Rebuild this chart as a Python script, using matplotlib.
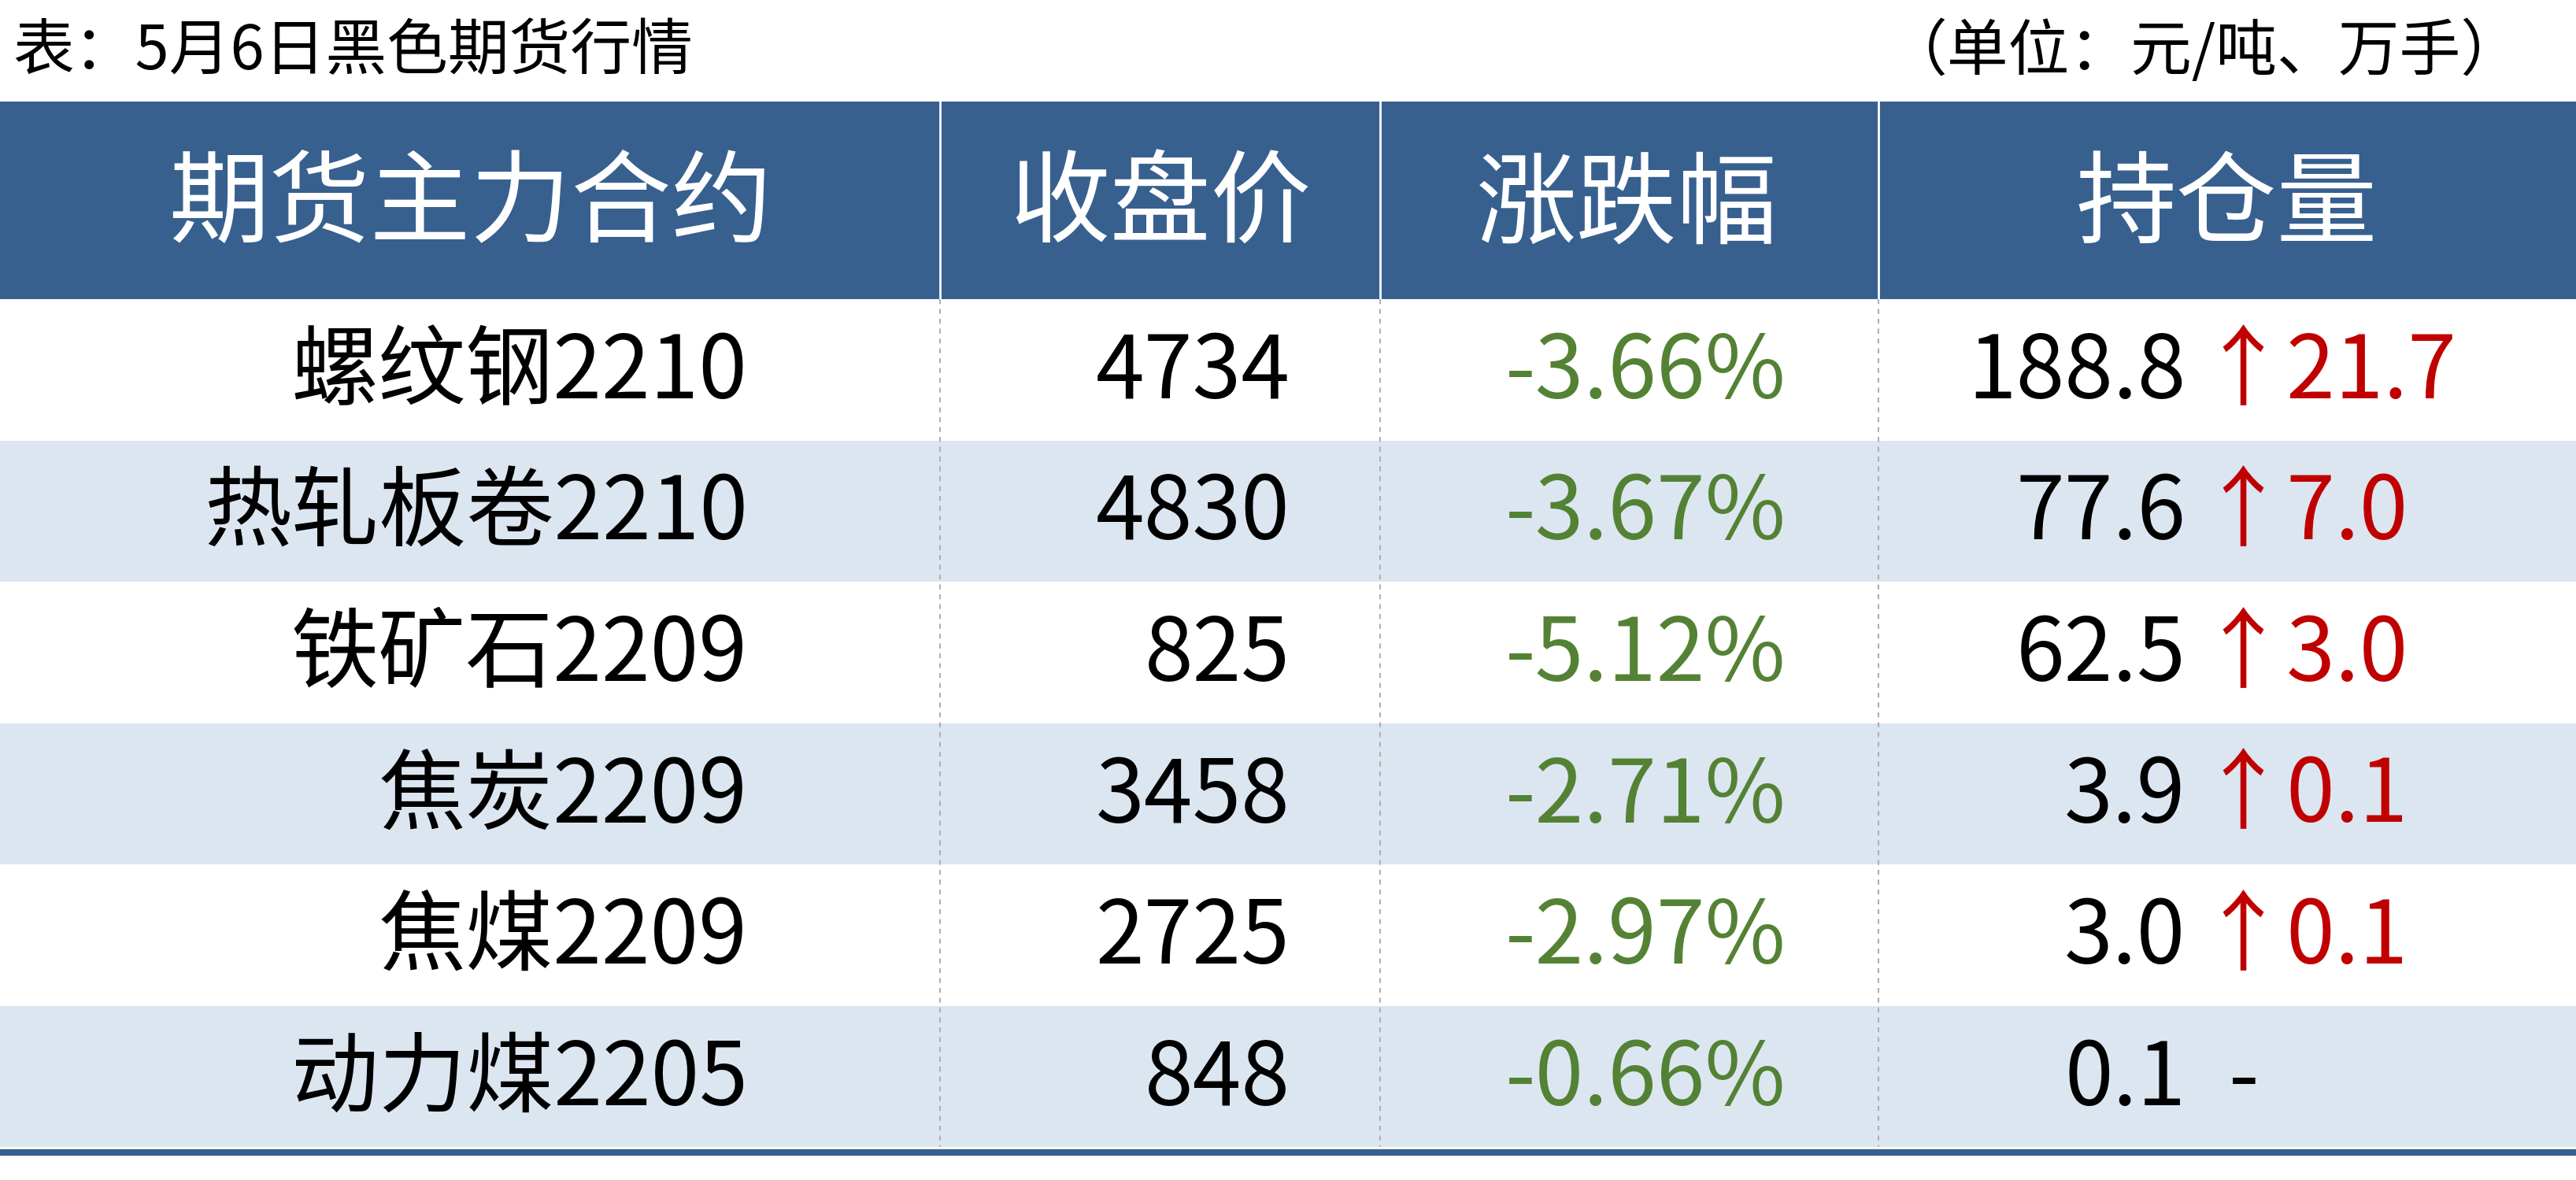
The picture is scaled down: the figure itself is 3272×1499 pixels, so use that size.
import matplotlib.pyplot as plt
from matplotlib.patches import Rectangle

plt.rcParams['font.family'] = ['Noto Sans CJK SC', 'DejaVu Sans']

title = "表：5月6日黑色期货行情"
unit = "（单位：元/吨、万手）"
headers = ["期货主力合约", "收盘价", "涨跌幅", "持仓量"]
contracts = ["螺纹钢2210", "热轧板卷2210", "铁矿石2209", "焦炭2209", "焦煤2209", "动力煤2205"]
close = ["4734", "4830", "825", "3458", "2725", "848"]
change = ["-3.66%", "-3.67%", "-5.12%", "-2.71%", "-2.97%", "-0.66%"]
position = ["188.8", "77.6", "62.5", "3.9", "3.0", "0.1"]
pos_change = ["↑21.7", "↑7.0", "↑3.0", "↑0.1", "↑0.1", "-"]

W, H = 1568, 718
fig = plt.figure(figsize=(32.73, 14.99), dpi=100)
ax = fig.add_axes([0, 0, 1, 1])
ax.set_xlim(0, W)
ax.set_ylim(H, 0)
ax.axis('off')

blue = '#37608F'
light = '#DCE6F1'
cols = [0, 572, 840, 1143, W]
head_top, head_bot = 62, 182
row_h = 86

ax.text(8, 32, title, fontsize=56, va='center', ha='left', color='black', fontweight='medium')
ax.text(1535, 32, unit, fontsize=56, va='center', ha='right', color='black', fontweight='medium')

ax.add_patch(Rectangle((0, head_top), W, head_bot - head_top, color=blue, lw=0))
for x in cols[1:-1]:
    ax.plot([x, x], [head_top, head_bot], color='white', lw=2)
centers = [286, 706, 990, 1355]
for c, h in zip(centers, headers):
    ax.text(c, 126, h, fontsize=92, color='white', ha='center', va='center')

for i in range(len(contracts)):
    y0 = head_bot + i * row_h
    if i % 2 == 1:
        ax.add_patch(Rectangle((0, y0), W, row_h, color=light, lw=0))
    yc = y0 + row_h / 2 + 2
    ax.text(455, yc, contracts[i], fontsize=80, ha='right', va='center')
    ax.text(785, yc, close[i], fontsize=80, ha='right', va='center')
    ax.text(1087, yc, change[i], fontsize=80, ha='right', va='center', color='#548235')
    ax.text(1330, yc, position[i], fontsize=80, ha='right', va='center')
    is_dash = pos_change[i] == '-'
    ax.text(1356 if is_dash else 1338, yc, pos_change[i], fontsize=80, ha='left', va='center',
            color='black' if is_dash else '#C00000')

table_bot = head_bot + len(contracts) * row_h
for x in cols[1:-1]:
    ax.plot([x, x], [head_bot, table_bot], color='#B0B0B0', lw=1.5, ls=(0, (3, 3)))
ax.plot([0, W], [table_bot + 3, table_bot + 3], color=blue, lw=6)

fig.savefig('out.png', dpi=100)
